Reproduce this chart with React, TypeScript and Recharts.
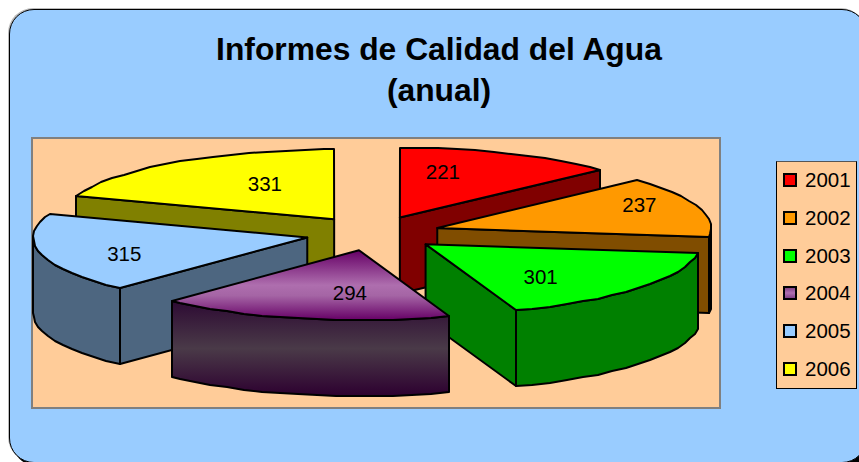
import { PieChart, Pie, Legend } from 'recharts'

const years = ['2001', '2002', '2003', '2004', '2005', '2006']
const reports = [221, 237, 301, 294, 315, 331]

const topColors = ['#ff0000', '#ff9900', '#00ff00', 'url(#purpleTop)', '#99ccff', '#ffff00']
const wallColors = ['#800000', '#804d00', '#008000', 'url(#purpleWall)', '#4d6680', '#808000']
const swatchColors = ['#ff0000', '#ff9900', '#00ff00', 'url(#purpleSwatch)', '#99ccff', '#ffff00']

// back to front, the slices overlap each other
const drawOrder = [5, 0, 1, 4, 2, 3]

// where each value label sits, as a fraction of the slice radius (x, y)
const labelReach = [
  [0.395, 0.7],
  [0.776, 1.05],
  [0.54, 0.75],
  [0.16, 0.63],
  [0.687, 1.04],
  [0.44, 0.61],
]

const rows = years.map((year, i) => ({ year, value: reports[i] }))

const SQUASH = 0.255
const EXPLODE = 67.6
const DEPTH = 76
const rad = (deg: number) => (deg * Math.PI) / 180

function Slice3D(props: any) {
  const { cx, cy, outerRadius, startAngle, endAngle, index } = props
  // recharts angles run counter clockwise from 3 o'clock, here clockwise from 12
  const a0 = 90 - startAngle
  const a1 = 90 - endAngle
  const mid = (a0 + a1) / 2
  const ax = cx + EXPLODE * Math.sin(rad(mid))
  const ay = cy - EXPLODE * SQUASH * Math.cos(rad(mid))
  const rim = (a: number): [number, number] => [
    Math.round(ax + outerRadius * Math.sin(rad(a))),
    Math.round(ay - outerRadius * SQUASH * Math.cos(rad(a))),
  ]
  const arc = (from: number, to: number) => {
    const pts: [number, number][] = []
    for (let a = from; a < to; a += 4) pts.push(rim(a))
    pts.push(rim(to))
    return pts
  }
  const poly = (pts: [number, number][]) => pts.map(p => p.join(',')).join(' ')
  const drop = (pts: [number, number][]) => pts.map(([x, y]) => [x, y + DEPTH] as [number, number])
  const apex: [number, number] = [ax, ay]
  const edge = { stroke: '#000', strokeWidth: 2, strokeLinejoin: 'round' as const }

  const walls: [number, number][][] = []
  const s0 = Math.sin(rad(a0))
  const s1 = Math.sin(rad(a1))
  if (s0 < -0.01) walls.push([apex, rim(a0), ...drop([rim(a0), apex])])
  if (s1 > 0.01) walls.push([apex, rim(a1), ...drop([rim(a1), apex])])
  const frontFrom = Math.max(a0, 90)
  const frontTo = Math.min(a1, 270)
  if (frontFrom < frontTo) {
    const front = arc(frontFrom, frontTo)
    walls.push([...front, ...drop(front).reverse()])
  }

  const [rx, ry] = labelReach[index]
  const lx = ax + rx * outerRadius * Math.sin(rad(mid))
  const ly = ay - ry * outerRadius * SQUASH * Math.cos(rad(mid)) - 1

  return (
    <g>
      {walls.map((w, i) => (
        <polygon key={i} points={poly(w)} fill={wallColors[index]} {...edge} />
      ))}
      <polygon points={poly([apex, ...arc(a0, a1)])} fill={topColors[index]} {...edge} />
      <text x={lx} y={ly} textAnchor="middle" dominantBaseline="central" fontSize={20.5} fill="#000" fontFamily="'Liberation Sans', Arial, sans-serif">
        {reports[index]}
      </text>
    </g>
  )
}

function YearLegend() {
  return (
    <div style={{ width: 79, height: 226, boxSizing: 'content-box', background: '#ffcc99', border: '1px solid #000', borderTopColor: '#555', position: 'relative' }}>
      {years.map((year, i) => (
        <div key={year} style={{ position: 'absolute', left: 0, top: 18 + i * 37.8 - 14, height: 28, display: 'flex', alignItems: 'center' }}>
          <svg width={14} height={14} style={{ marginLeft: 6, marginRight: 8 }}>
            <defs>
              <linearGradient id="purpleSwatch" x1="0" y1="0" x2="0" y2="1">
                <stop offset="0" stopColor="#7a3a80" />
                <stop offset="0.5" stopColor="#b070b0" />
                <stop offset="1" stopColor="#7a3a80" />
              </linearGradient>
            </defs>
            <rect x={1} y={1} width={12} height={12} fill={swatchColors[i]} stroke="#000" strokeWidth={2} />
          </svg>
          <span style={{ fontSize: 20.5, color: '#000', fontFamily: "'Liberation Sans', Arial, sans-serif" }}>{year}</span>
        </div>
      ))}
    </div>
  )
}

export default function App() {
  return (
    <div style={{ position: 'absolute', left: 0, top: 0, width: 859, height: 462, overflow: 'hidden', background: '#fff' }}>
      <div style={{ position: 'absolute', left: 9, top: 9, width: 856, height: 452, background: '#99ccff', border: '1px solid #000', borderRadius: 25, boxShadow: '-1px -1px 0 #bbb, 3px 3px 0 #000' }} />
      <div style={{ position: 'absolute', left: 31, top: 137, width: 686, height: 268, background: '#ffcc99', border: '2px solid #808080' }} />
      <div style={{ position: 'absolute', left: 0, top: 29, width: 878, textAlign: 'center', fontFamily: "'Liberation Sans', Arial, sans-serif", fontWeight: 700, fontSize: 31.8, lineHeight: '41px', color: '#000' }}>
        Informes de Calidad del Agua
        <br />
        (anual)
      </div>
      <div style={{ position: 'absolute', left: 0, top: 0 }}>
        <PieChart width={859} height={462} margin={{ top: 0, right: 0, bottom: 0, left: 0 }}>
          <defs>
            <linearGradient id="purpleTop" x1="0" y1="0" x2="0" y2="1">
              <stop offset="0" stopColor="#660066" />
              <stop offset="0.5" stopColor="#ae6eae" />
              <stop offset="0.65" stopColor="#a565a5" />
              <stop offset="1" stopColor="#660066" />
            </linearGradient>
            <linearGradient id="purpleWall" x1="0" y1="0" x2="0" y2="1">
              <stop offset="0" stopColor="#2d0a33" />
              <stop offset="0.5" stopColor="#4a3a48" />
              <stop offset="1" stopColor="#2d0030" />
            </linearGradient>
          </defs>
          {drawOrder.map(i => {
            const shape = (p: any, idx: number) => (idx === i ? <Slice3D {...p} index={idx} /> : <g />)
            return (
              <Pie
                key={i}
                data={rows}
                dataKey="value"
                nameKey="year"
                cx={373}
                cy={233.4}
                innerRadius={0}
                outerRadius={274}
                startAngle={90}
                endAngle={-270}
                stroke="none"
                shape={shape}
                inactiveShape={shape}
                activeShape={shape}
                isAnimationActive={false}
                legendType="none"
              />
            )
          })}
          <Legend
            content={<YearLegend />}
            wrapperStyle={{ position: 'absolute', left: 776, top: 161, width: 81 }}
          />
        </PieChart>
      </div>
    </div>
  )
}
